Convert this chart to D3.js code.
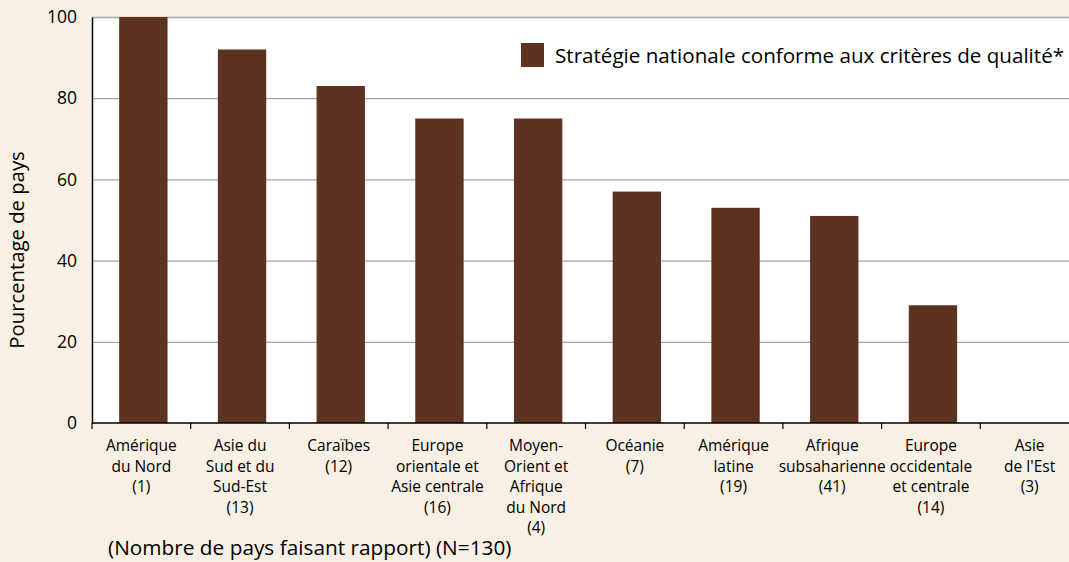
<!DOCTYPE html>
<html>
<head>
<meta charset="utf-8">
<script src="https://cdn.jsdelivr.net/npm/d3@7"></script>
<style>
  html, body { margin: 0; padding: 0; background: #f8f0e4; }
  svg { display: block; font-family: "Open Sans", sans-serif; }
</style>
</head>
<body>
<svg id="chart" width="1069" height="562"></svg>
<script>
// Regions, with the number of reporting countries as the last label line
const regionLabels = [
  ["Amérique", "du Nord", "(1)"],
  ["Asie du", "Sud et du", "Sud-Est", "(13)"],
  ["Caraïbes", "(12)"],
  ["Europe", "orientale et", "Asie centrale", "(16)"],
  ["Moyen-", "Orient et", "Afrique", "du Nord", "(4)"],
  ["Océanie", "(7)"],
  ["Amérique", "latine", "(19)"],
  ["Afrique", "subsaharienne", "(41)"],
  ["Europe", "occidentale", "et centrale", "(14)"],
  ["Asie", "de l'Est", "(3)"]
];
// Share of countries (%) with a national strategy meeting the quality criteria
const shareValues = [100, 92, 83, 75, 75, 57, 53, 51, 29, 0];
const yTicks = [0, 20, 40, 60, 80, 100];
const seriesName = "Stratégie nationale conforme aux critères de qualité*";
const yTitle = "Pourcentage de pays";
const footNote = "(Nombre de pays faisant rapport) (N=130)";

const svg = d3.select("#chart");
const margin = { left: 92, top: 17, bottom: 423 };
const plotRight = 1079;

// Category slots along the axis
const x = d3.scaleBand()
  .domain(d3.range(regionLabels.length))
  .range([margin.left, plotRight]);
// Bars sit slightly right of slot centre
const xBar = d3.scaleBand()
  .domain(d3.range(regionLabels.length))
  .range([margin.left + 2, plotRight + 2])
  .paddingInner(0.51)
  .paddingOuter(0.255);

const y = d3.scaleLinear().domain([0, 100]).range([margin.bottom, margin.top]);

// Plot background
svg.append("rect")
  .attr("x", margin.left).attr("y", margin.top)
  .attr("width", plotRight - margin.left)
  .attr("height", margin.bottom - margin.top)
  .attr("fill", "#ffffff");

// Horizontal gridlines
svg.append("g")
  .selectAll("line")
  .data(yTicks.filter(d => d > 0))
  .join("line")
  .attr("x1", margin.left).attr("x2", plotRight)
  .attr("y1", d => y(d) + 0.5).attr("y2", d => y(d) + 0.5)
  .attr("stroke", "#a6a6a6")
  .attr("stroke-width", 1.3);

// Bars
svg.append("g")
  .selectAll("rect")
  .data(shareValues)
  .join("rect")
  .attr("x", (d, i) => xBar(i))
  .attr("width", xBar.bandwidth())
  .attr("y", d => y(d))
  .attr("height", d => y(0) - y(d))
  .attr("fill", "#5c3220");

// Y axis
const yAxis = svg.append("g")
  .attr("transform", `translate(${margin.left},0)`)
  .call(d3.axisLeft(y).tickValues(yTicks).tickSize(0).tickPadding(15));
yAxis.select(".domain").attr("stroke", "#000").attr("stroke-width", 1.5);
yAxis.selectAll("text")
  .attr("font-size", 17.5).attr("fill", "#000")
  .attr("font-family", "'Open Sans', sans-serif");

// X axis: ticks at category boundaries
const step = x.step();
const boundaries = d3.range(regionLabels.length + 1).map(i => margin.left + i * step);
svg.append("line")
  .attr("x1", margin.left).attr("x2", plotRight)
  .attr("y1", y(0)).attr("y2", y(0))
  .attr("stroke", "#000").attr("stroke-width", 1.5);
svg.append("g")
  .selectAll("line")
  .data(boundaries)
  .join("line")
  .attr("x1", d => d).attr("x2", d => d)
  .attr("y1", y(0)).attr("y2", y(0) + 6)
  .attr("stroke", "#000").attr("stroke-width", 1.2);

// Category labels
const labelGroups = svg.append("g")
  .selectAll("text")
  .data(regionLabels)
  .join("text")
  .attr("text-anchor", "middle")
  .attr("font-size", 15.5)
  .attr("fill", "#000");
labelGroups.selectAll("tspan")
  .data((d, i) => d.map(line => ({ line, i })))
  .join("tspan")
  .attr("x", d => x(d.i) + step / 2)
  .attr("y", (d, j) => 451 + j * 20.6)
  .text(d => d.line);

// Y title
svg.append("text")
  .attr("transform", `translate(24, ${(margin.top + margin.bottom) / 2 + 30}) rotate(-90)`)
  .attr("text-anchor", "middle")
  .attr("font-size", 20.3)
  .attr("fill", "#000")
  .text(yTitle);

// Legend
svg.append("rect")
  .attr("x", 521).attr("y", 43)
  .attr("width", 23).attr("height", 24)
  .attr("fill", "#5c3220");
svg.append("text")
  .attr("x", 555).attr("y", 63)
  .attr("font-size", 20.6)
  .attr("fill", "#000")
  .text(seriesName);

// Footnote
svg.append("text")
  .attr("x", 108).attr("y", 555)
  .attr("font-size", 20.8)
  .attr("fill", "#000")
  .text(footNote);
</script>
</body>
</html>
